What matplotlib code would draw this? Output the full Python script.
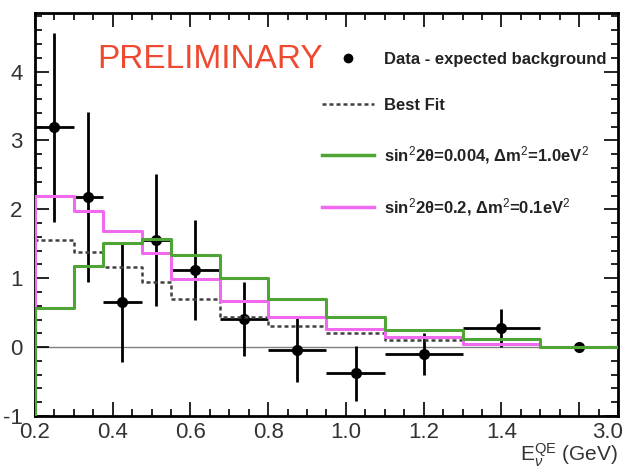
import numpy as np
import matplotlib.pyplot as plt
import matplotlib.transforms as mtransforms
from matplotlib.lines import Line2D

plt.rcParams['font.family'] = ['Liberation Sans', 'DejaVu Sans']
plt.rcParams['mathtext.fontset'] = 'custom'
plt.rcParams['mathtext.rm'] = 'Liberation Sans'
plt.rcParams['mathtext.it'] = 'Liberation Sans:italic'

# bin edges in reconstructed neutrino energy (GeV)
edges = np.array([0.2, 0.3, 0.375, 0.475, 0.55, 0.675, 0.8, 0.95, 1.1, 1.3, 1.5, 3.0])

# data minus expected background, per bin
excess = np.array([3.19, 2.18, 0.65, 1.56, 1.12, 0.41, -0.04, -0.38, -0.10, 0.28, 0.0])
excess_err = np.array([1.37, 1.23, 0.87, 0.96, 0.73, 0.54, 0.47, 0.40, 0.30, 0.28, 0.03])

# predictions
best_fit = np.array([1.56, 1.38, 1.17, 0.95, 0.70, 0.44, 0.30, 0.20, 0.11, 0.05, 0.0])
osc_high_dm2 = np.array([0.57, 1.18, 1.51, 1.57, 1.34, 1.00, 0.70, 0.44, 0.25, 0.12, 0.0])
osc_low_dm2 = np.array([2.20, 1.98, 1.69, 1.37, 0.99, 0.67, 0.43, 0.27, 0.15, 0.05, 0.0])

x_ticks = [0.2, 0.4, 0.6, 0.8, 1.0, 1.2, 1.4, 3.0]
x_tick_labels = ['0.2', '0.4', '0.6', '0.8', '1.0', '1.2', '1.4', '3.0']
y_ticks = [-1, 0, 1, 2, 3, 4]

YMIN, YMAX = -1.0, 4.85


# last bin (1.5-3.0 GeV) is squeezed into 0.2 units of axis width
def fwd(x):
    x = np.asarray(x, dtype=float)
    return np.where(x <= 1.5, x, 1.5 + (x - 1.5) / 7.5)


def inv(y):
    y = np.asarray(y, dtype=float)
    return np.where(y <= 1.5, y, 1.5 + (y - 1.5) * 7.5)


def draw_hist(ax, values, **kw):
    """histogram outline, rising from the bottom of the frame on the left"""
    xs = np.r_[edges[0], edges]
    ys = np.r_[YMIN, values, values[-1]]
    ax.step(xs, ys, where='post', **kw)


fig = plt.figure(figsize=(6.41, 4.73), dpi=100)
ax = fig.add_axes([35 / 641, 57 / 473, 583 / 641, 403 / 473])
ax.set_xscale('function', functions=(fwd, inv))
ax.set_xlim(0.2, 3.0)
ax.set_ylim(YMIN, YMAX)

ax.axhline(0, color='#808080', lw=1.0, zorder=1)

green = '#4fa436'
magenta = '#f06af0'

ax.errorbar(0.5 * (edges[:-1] + edges[1:]), excess,
            xerr=0.5 * np.diff(edges), yerr=excess_err,
            fmt='o', color='black', ms=7, elinewidth=2.0, capsize=0, zorder=3)

draw_hist(ax, best_fit, color='#404040', lw=1.8, ls=(0, (1.6, 1.2)), zorder=4)
draw_hist(ax, osc_low_dm2, color=magenta, lw=2.2, zorder=5)
draw_hist(ax, osc_high_dm2, color=green, lw=2.2, zorder=6)

# axis ticks
minor = inv(np.arange(0.2, 1.70, 0.05))
ax.set_xticks(minor, minor=True)
ax.set_xticks(list(x_ticks[:-1]) + [float(inv(1.6))] + [x_ticks[-1]])
ax.set_xticklabels(x_tick_labels[:-1] + [''] + [x_tick_labels[-1]])
ax.set_yticks(y_ticks)
ax.set_yticklabels([str(v) for v in y_ticks])
ax.set_yticks(np.arange(-1, 4.81, 0.2), minor=True)
ax.tick_params(which='both', direction='in', top=True, right=True,
               labelsize=16, labelcolor='#333333', width=1.2)
ax.tick_params(which='major', length=10)
ax.tick_params(which='minor', length=5)
ax.tick_params(axis='x', pad=4)
ax.tick_params(axis='y', pad=9)
for s in ax.spines.values():
    s.set_linewidth(2.0)

# pull the last label back inside the frame
last = ax.get_xticklabels()[-1]
last.set_transform(last.get_transform() +
                   mtransforms.ScaledTranslation(-10 / 100, 0, fig.dpi_scale_trans))

ax.set_xlabel(r'E$_{\nu}^{\rm QE}$ (GeV)', fontsize=15, loc='right',
              color='#333333', labelpad=-1)

fig.text(97 / 641, 1 - 68 / 473, 'PRELIMINARY', fontsize=24, color='#ee4a32',
         ha='left', va='baseline')

handles = [
    Line2D([], [], ls='none', marker='o', color='black', ms=6),
    Line2D([], [], color='#404040', lw=1.8, ls=(0, (1.6, 1.2))),
    Line2D([], [], color=green, lw=2.5),
    Line2D([], [], color=magenta, lw=2.5),
]
labels = [
    'Data - expected background',
    'Best Fit',
    r'sin$^{2}$2θ=0.004, Δm$^{2}$=1.0eV$^{2}$',
    r'sin$^{2}$2θ=0.2, Δm$^{2}$=0.1eV$^{2}$',
]
leg = ax.legend(handles, labels, loc='upper left',
                bbox_to_anchor=(322 / 641, 1 - 52 / 473),
                bbox_transform=fig.transFigure, frameon=False,
                prop={'weight': 'bold', 'size': 12}, handlelength=3.1,
                handletextpad=0.6, labelspacing=1.85, borderpad=0,
                borderaxespad=0)
for t in leg.get_texts():
    t.set_color('#222222')

fig.savefig('out.png', dpi=100)
